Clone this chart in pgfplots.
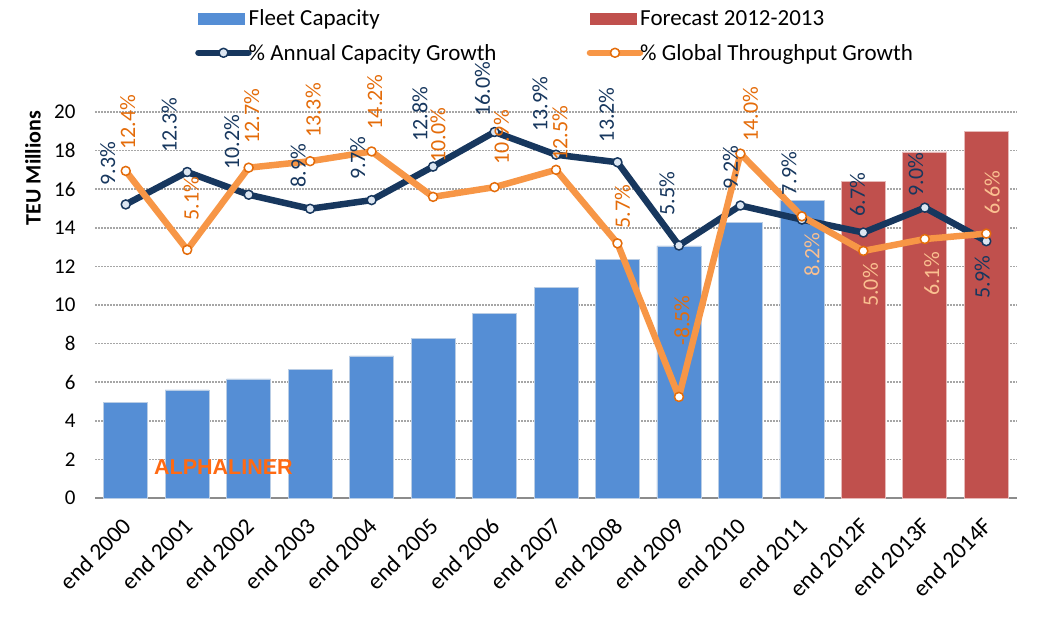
\documentclass[border=0pt]{standalone}
\usepackage{fontspec}
\setmainfont{Carlito}
\newfontfamily\alphafont{Liberation Sans}
\usepackage{pgfplots}
\usepackage{pgfplotstable}
\pgfplotsset{compat=1.18}

\definecolor{fleet}{HTML}{558ED5}
\definecolor{fleetedge}{HTML}{B9CDE5}
\definecolor{fcast}{HTML}{C0504D}
\definecolor{fcastedge}{HTML}{E6B9B8}
\definecolor{navy}{HTML}{17375E}
\definecolor{navyfill}{HTML}{DCE6F2}
\definecolor{orangeline}{HTML}{F79646}
\definecolor{orangetext}{HTML}{E46C0A}
\definecolor{peach}{HTML}{FAC090}
\definecolor{gridgray}{HTML}{A6A6A6}
\definecolor{axisgray}{HTML}{8C8C8C}
\definecolor{alphaorange}{HTML}{FF6A13}

\pgfplotstableread{
x cap
0 4.95
1 5.60
2 6.17
3 6.68
4 7.36
5 8.29
6 9.58
7 10.93
8 12.38
9 13.06
10 14.30
11 15.44
}\fleettable
\pgfplotstableread{
x cap
12 16.42
13 17.93
14 19.00
}\forecasttable
% g = growth in %, lx/ly = label offsets (pt)
\pgfplotstableread{
x g lx ly
0 9.3 -18 19
1 12.3 -18 19
2 10.2 -17 25
3 8.9 -12 21
4 9.7 -14 20
5 12.8 -13 25
6 16.0 -12 15
7 13.9 -16 23
8 13.2 -11 20
9 5.5 -12 30
10 9.2 -10 16
11 7.9 -13 24
12 6.7 -6 16
13 9.0 -9 11
14 5.9 -4 -14
}\capgrowth
\pgfplotstableread{
x g lx ly
0 12.4 2 21
1 5.1 4 29
2 12.7 3 24
3 13.3 3 23
4 14.2 3 22
5 10.0 5 34
6 10.9 7 22
7 12.5 4 9
8 5.7 5 15
9 -8.5 3 51
10 14.0 10 12
11 8.2 10 -16
12 5.0 7 -12
13 6.1 7 -13
14 6.6 6 19
}\tpgrowth

\newcommand{\lblfont}{\fontsize{22}{26}\selectfont}
\newcommand{\pct}{\pgfmathprintnumber[fixed,fixed zerofill,precision=1]{\pgfplotspointmeta}\%}

\pgfplotsset{
  lineleg/.style={legend image code/.code={%
    \draw[##1, line cap=round, mark=none] (0pt,0pt) -- (50pt,0pt);
    \draw[##1] plot coordinates {(25pt,0pt)};}},
  fleetleg/.style={legend image code/.code={\fill[fleet] (0pt,-5.5pt) rectangle (46pt,5.5pt);}},
  fcastleg/.style={legend image code/.code={\fill[fcast] (0pt,-5.5pt) rectangle (46pt,5.5pt);}},
  lbl above/.style={forget plot, draw=none, mark=none, point meta=y,
    visualization depends on={\thisrow{lx}\as\lx},
    visualization depends on={\thisrow{ly}\as\ly},
    nodes near coords={\pct},
    every node near coord/.append style={font=\lblfont, text=#1, inner sep=0pt,
      xshift=\lx pt, yshift=\ly pt, rotate=90, anchor=west}},
  lbl below/.style={forget plot, draw=none, mark=none, point meta=y,
    visualization depends on={\thisrow{lx}\as\lx},
    visualization depends on={\thisrow{ly}\as\ly},
    nodes near coords={\pct},
    every node near coord/.append style={font=\lblfont, text=#1, inner sep=0pt,
      xshift=\lx pt, yshift=\ly pt, rotate=90, anchor=east}},
}

\begin{document}
\begin{tikzpicture}
\useasboundingbox (0pt,0pt) rectangle (1062pt,621pt);
\begin{axis}[
  at={(95pt,123pt)}, anchor=south west,
  scale only axis, width=922pt, height=386pt,
  xmin=-0.5, xmax=14.5, ymin=0, ymax=20,
  axis x line*=bottom, axis y line*=left,
  y axis line style={draw=none},
  x axis line style={axisgray, line width=2pt},
  xtick={0,...,14},
  xticklabels={end 2000,end 2001,end 2002,end 2003,end 2004,end 2005,end 2006,end 2007,end 2008,end 2009,end 2010,end 2011,end 2012F,end 2013F,end 2014F},
  minor xtick={-0.5,0.5,...,14.5},
  major tick length=0pt, minor tick length=7pt, tick align=outside,
  xtick style={draw=none}, ytick style={draw=none},
  minor x tick style={axisgray, line width=2pt},
  ytick={0,2,...,20},
  ymajorgrids,
  major grid style={gridgray, line width=1.5pt, dash pattern=on 1.5pt off 1.5pt},
  /pgf/number format/assume math mode=true,
  yticklabel style={font=\fontsize{21}{25}\selectfont, xshift=-16pt},
  xticklabel style={font=\fontsize{23.5}{27}\selectfont, inner sep=0pt, xshift=1pt, yshift=-24pt, rotate=45, anchor=east},
  ylabel={TEU Millions},
  ylabel style={at={(axis description cs:-0.0672,0.855)}, anchor=center, font=\fontsize{22}{26}\selectfont\bfseries},
  clip=false,
]
\addplot[ybar, bar width=44pt, bar shift=0pt, fill=fleet, draw=fleetedge, line width=0.75pt] table[x=x,y=cap]{\fleettable};
\addplot[ybar, bar width=44pt, bar shift=0pt, fill=fcast, draw=fcastedge, line width=0.75pt] table[x=x,y=cap]{\forecasttable};
\node[font=\alphafont\fontsize{21.5}{25}\selectfont\bfseries, text=alphaorange] at (axis cs:1.59,1.6) {ALPHALINER};
\end{axis}

\begin{axis}[
  at={(95pt,123pt)}, anchor=south west,
  scale only axis, width=922pt, height=386pt,
  xmin=-0.5, xmax=14.5, ymin=-17.85, ymax=17.85,
  hide axis, clip=false,
  /pgf/number format/assume math mode=true,
  legend columns=2,
  legend cell align=left,
  legend style={at={(axis description cs:0.1085,1.271)}, anchor=north west, draw=none, fill=none,
    font=\fontsize{23}{27}\selectfont, inner sep=0pt, row sep=13pt, column sep=0pt,
    /tikz/every odd column/.append style={column sep=-5pt}},
]
\addlegendimage{fleetleg}
\addlegendentry{\makebox[336pt][l]{Fleet Capacity}}
\addlegendimage{fcastleg}
\addlegendentry{Forecast 2012-2013}

\addplot[navy, line width=6.5pt, line join=round, mark=*, mark size=4.5pt,
  mark options={fill=navyfill, draw=navy, line width=1.5pt}, lineleg]
  table[x=x,y=g]{\capgrowth};
\addlegendentry{\makebox[336pt][l]{\% Annual Capacity Growth}}
\addplot[orangeline, line width=6.5pt, line join=round, mark=*, mark size=4.5pt,
  mark options={fill=white, draw=orangetext, line width=1.5pt}, lineleg]
  table[x=x,y=g]{\tpgrowth};
\addlegendentry{\% Global Throughput Growth}

% data labels: capacity growth
\addplot[lbl above=navy, skip coords between index={14}{15}] table[x=x,y=g]{\capgrowth};
\addplot[lbl below=navy, skip coords between index={0}{14}] table[x=x,y=g]{\capgrowth};
% data labels: throughput growth
\addplot[lbl above=orangetext, skip coords between index={11}{15}] table[x=x,y=g]{\tpgrowth};
\addplot[lbl below=peach, skip coords between index={0}{11}, skip coords between index={14}{15}] table[x=x,y=g]{\tpgrowth};
\addplot[lbl above=peach, skip coords between index={0}{14}] table[x=x,y=g]{\tpgrowth};
\end{axis}
\end{tikzpicture}
\end{document}
